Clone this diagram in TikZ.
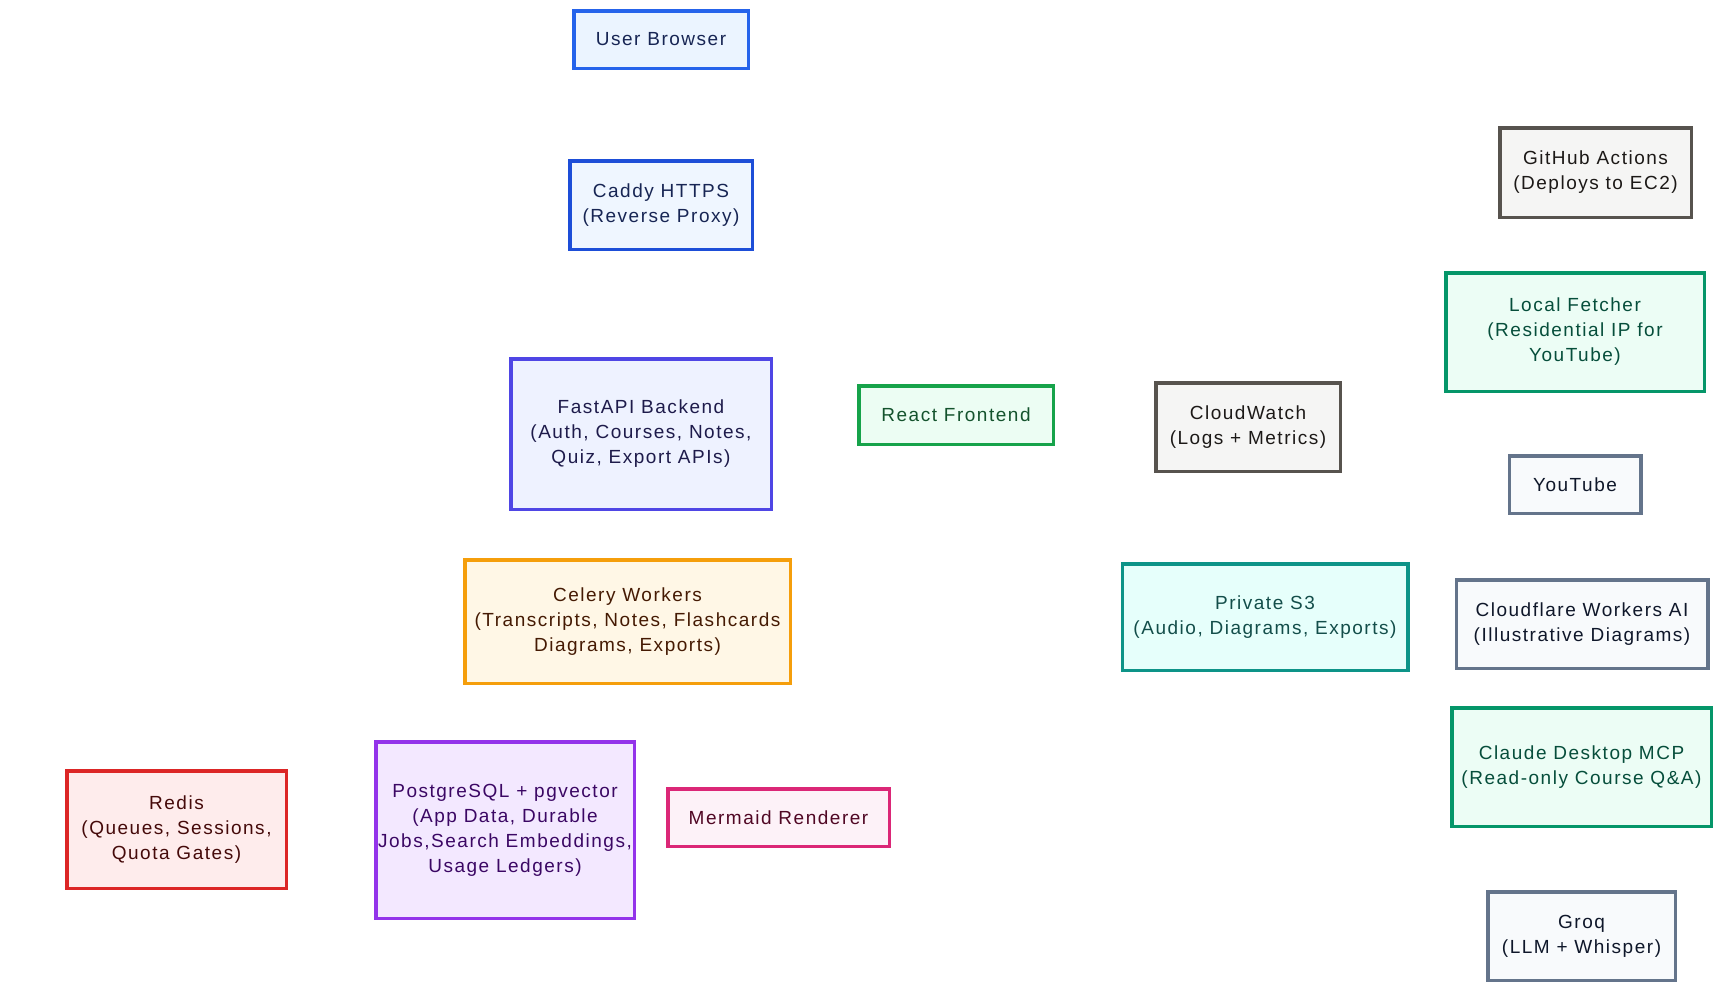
\documentclass[tikz,border=0pt]{standalone}
\usepackage{fontspec}
\setmainfont{Liberation Sans}[LetterSpace=8]
\newcommand{\fs}{\fontsize{19pt}{25pt}\selectfont}
\definecolor{bBlue}{HTML}{2563EB}\definecolor{fBlue}{HTML}{EBF4FF}
\definecolor{bBlue2}{HTML}{1D4ED8}\definecolor{fBlue2}{HTML}{EFF6FF}
\definecolor{tNavy}{HTML}{172554}
\definecolor{bIndigo}{HTML}{4F46E5}\definecolor{fIndigo}{HTML}{EEF2FF}\definecolor{tIndigo}{HTML}{1E1B4B}
\definecolor{bAmber}{HTML}{F59E0B}\definecolor{fAmber}{HTML}{FFF7E6}\definecolor{tAmber}{HTML}{451A03}
\definecolor{bPurple}{HTML}{9333EA}\definecolor{fPurple}{HTML}{F3E8FF}\definecolor{tPurple}{HTML}{3B0764}
\definecolor{bRed}{HTML}{DC2626}\definecolor{fRed}{HTML}{FEECEC}\definecolor{tRed}{HTML}{450A0A}
\definecolor{bPink}{HTML}{DB2777}\definecolor{fPink}{HTML}{FDF2F8}\definecolor{tPink}{HTML}{500724}
\definecolor{bGreen}{HTML}{16A34A}\definecolor{fGreen}{HTML}{ECFDF3}\definecolor{tGreen}{HTML}{14532D}
\definecolor{bStone}{HTML}{57534E}\definecolor{fStone}{HTML}{F5F5F4}\definecolor{tStone}{HTML}{1C1917}
\definecolor{bEmer}{HTML}{059669}\definecolor{fEmer}{HTML}{ECFDF5}\definecolor{tEmer}{HTML}{064E3B}
\definecolor{bTeal}{HTML}{0D9488}\definecolor{fTeal}{HTML}{E6FFFB}\definecolor{tTeal}{HTML}{134E4A}
\definecolor{bSlate}{HTML}{64748B}\definecolor{fSlate}{HTML}{F8FAFC}\definecolor{tSlate}{HTML}{0F172A}
\tikzset{
  bx/.style n args={5}{draw=#1, fill=#2, text=#3, minimum width=#4-3.5pt, minimum height=#5-3.5pt,
    line width=3.5pt, align=center, inner sep=0pt, outer sep=0pt, font=\fs, anchor=center},
}
\begin{document}
\begin{tikzpicture}[x=1pt,y=-1pt]
\useasboundingbox (0,0) rectangle (1721,991);
\node[bx={bBlue}{fBlue}{tNavy}{178pt}{61pt}] (ub) at (661,39.5) {User Browser};
\node[bx={bBlue2}{fBlue2}{tNavy}{186pt}{92pt}] (caddy) at (661,205) {Caddy HTTPS\\(Reverse Proxy)};
\node[bx={bIndigo}{fIndigo}{tIndigo}{264pt}{154pt}] (api) at (641,434) {FastAPI Backend\\(Auth, Courses, Notes,\\Quiz, Export APIs)};
\node[bx={bAmber}{fAmber}{tAmber}{329pt}{127pt}] (celery) at (627.5,621.5) {Celery Workers\\(Transcripts, Notes, Flashcards\\Diagrams, Exports)};
\node[bx={bPurple}{fPurple}{tPurple}{262pt}{180pt}] (pg) at (505,830) {PostgreSQL + pgvector\\(App Data, Durable\\Jobs,Search Embeddings,\\Usage Ledgers)};
\node[bx={bRed}{fRed}{tRed}{223pt}{121pt}] (redis) at (176.5,829.5) {Redis\\(Queues, Sessions,\\Quota Gates)};
\node[bx={bPink}{fPink}{tPink}{225pt}{61pt}] (mermaid) at (778.5,817.5) {Mermaid Renderer};
\node[bx={bGreen}{fGreen}{tGreen}{198pt}{62pt}] (react) at (956,415) {React Frontend};
\node[bx={bStone}{fStone}{tStone}{188pt}{92pt}] (cw) at (1248,427) {CloudWatch\\(Logs + Metrics)};
\node[bx={bTeal}{fTeal}{tTeal}{289pt}{110pt}] (s3) at (1265,617) {Private S3\\(Audio, Diagrams, Exports)};
\node[bx={bSlate}{fSlate}{tSlate}{135pt}{61pt}] (yt) at (1575,484.5) {YouTube};
\node[bx={bSlate}{fSlate}{tSlate}{255pt}{92pt}] (cf) at (1582,624) {Cloudflare Workers AI\\(Illustrative Diagrams)};
\node[bx={bStone}{fStone}{tStone}{195pt}{93pt}] (gh) at (1595.5,172.5) {GitHub Actions\\(Deploys to EC2)};
\node[bx={bEmer}{fEmer}{tEmer}{262pt}{122pt}] (lf) at (1575,332) {Local Fetcher\\(Residential IP for\\YouTube)};
\node[bx={bEmer}{fEmer}{tEmer}{263pt}{122pt}] (mcp) at (1581.5,767) {Claude Desktop MCP\\(Read-only Course Q\&A)};
\node[bx={bSlate}{fSlate}{tSlate}{191pt}{92pt}] (groq) at (1581.5,936) {Groq\\(LLM + Whisper)};
\end{tikzpicture}
\end{document}
